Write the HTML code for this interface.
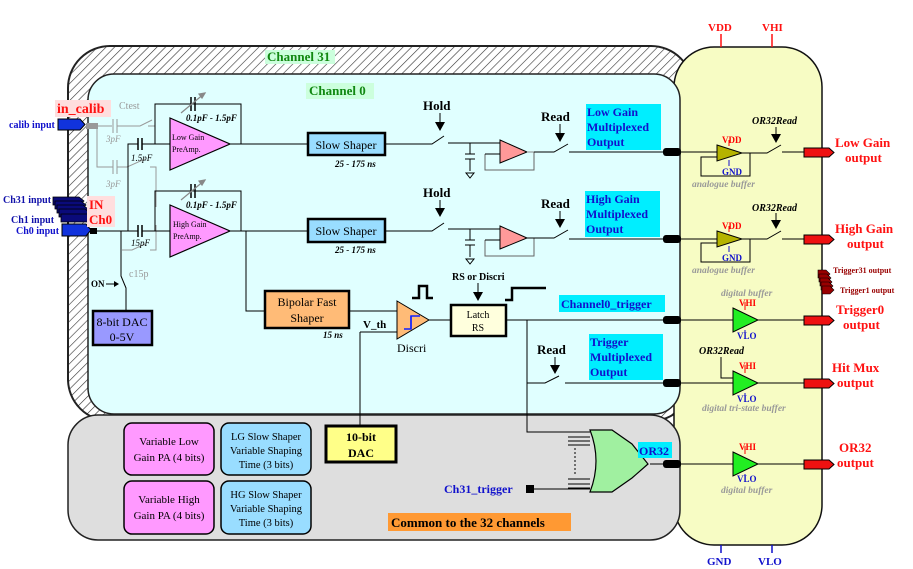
<!DOCTYPE html>
<html><head><meta charset="utf-8"><style>
html,body{margin:0;padding:0;background:#fff}
svg{display:block}
text{font-family:"Liberation Serif",serif}
.b{font-weight:bold}
</style></head><body>
<svg width="913" height="569" viewBox="0 0 913 569" xmlns="http://www.w3.org/2000/svg">
<defs>
<pattern id="h" width="6" height="6" patternUnits="userSpaceOnUse" patternTransform="rotate(45)">
<rect width="6" height="6" fill="#fff"/><line x1="0" y1="0" x2="0" y2="6" stroke="#333" stroke-width="1.2"/>
</pattern>
</defs>
<!-- Channel31 hatched -->
<rect x="68" y="46" width="625" height="375" rx="42" fill="url(#h)" stroke="#222" stroke-width="2"/>
<!-- yellow column -->
<rect x="674" y="47" width="148" height="498" rx="40" fill="#f7fcc4" stroke="#111" stroke-width="1.5"/>
<!-- channel 0 -->
<rect x="88" y="74" width="592" height="340" rx="26" fill="#e0ffff" stroke="#222" stroke-width="1.5"/>
<!-- gray common -->
<rect x="68" y="415" width="612" height="125" rx="30" fill="#dedede" stroke="#222" stroke-width="1.5"/>

<rect x="265" y="50" width="70" height="14" fill="#ccffdd"/>
<text x="267" y="61" font-size="13" class="b" fill="#118811">Channel 31</text>
<rect x="306" y="83" width="68" height="16" fill="#ccffdd"/>
<text x="309" y="95" font-size="13" class="b" fill="#118811">Channel 0</text>

<!-- left inputs -->
<rect x="55" y="100" width="56" height="17" fill="#ffdede"/>
<text x="57" y="113" font-size="14" class="b" fill="#ff1111">in_calib</text>
<text x="9" y="128" font-size="10" class="b" fill="#1111cc">calib input</text>
<path d="M58 119h22l5 5.5-5 5.5h-22z" fill="#1133dd" stroke="#000"/>
<rect x="86" y="123" width="12" height="6" fill="#999"/>
<g fill="#0a0a7a" stroke="#000" stroke-width="0.8">
<path d="M53 197h26l5 4-5 4h-26z"/><path d="M55 201h26l5 4-5 4h-26z"/><path d="M57 205h26l5 4-5 4h-26z"/><path d="M59 209h26l5 4-5 4h-26z"/><path d="M61 214h26l5 4-5 4h-26z"/>
</g>
<path d="M62 224h24l5 6-5 6h-24z" fill="#1133dd" stroke="#000"/>
<rect x="90" y="228" width="7" height="6" fill="#000"/>
<text x="3" y="203" font-size="10" class="b" fill="#1111aa">Ch31 input</text>
<text x="11" y="223" font-size="10" class="b" fill="#1111aa">Ch1 input</text>
<text x="16" y="234" font-size="10" class="b" fill="#1111cc">Ch0 input</text>
<rect x="87" y="196" width="28" height="31" fill="#ffdede"/>
<text x="89" y="209" font-size="13" class="b" fill="#ff1111">IN</text>
<text x="89" y="224" font-size="13" class="b" fill="#ff1111">Ch0</text>

<!-- gray calib circuitry -->
<g stroke="#999" fill="none" stroke-width="1">
<path d="M98 126h14M117 126h5M122 126h18l12-6M143 126v0M148 126h7"/>
<path d="M113 119v14M117 119v14"/>
<path d="M97 126v10M97 136v0"/>
<path d="M97 127v40h16M117 167h10l18-8M150 167h6v40"/>
<path d="M113 160v14M117 160v14"/>
<path d="M122 250h10l13-6M150 250h6v-25"/>
</g>
<text x="119" y="109" font-size="10" fill="#999">Ctest</text>
<text x="106" y="142" font-size="9" font-style="italic" fill="#999">3pF</text>
<text x="106" y="187" font-size="9" font-style="italic" fill="#999">3pF</text>
<text x="129" y="277" font-size="10" fill="#999">c15p</text>

<!-- main wiring -->
<g stroke="#000" fill="none" stroke-width="1">
<path d="M97 231h41M142 231h28"/>
<path d="M128 231v-87h10M142 144h28"/>
<path d="M155 144v-40h86v40M230 144h77"/>
<path d="M155 231v-40h86v40M230 231h77"/>
<path d="M121 231v45l5 12v22"/>
<path d="M246 231v80h19"/>
<path d="M385 144h47l12-8M448 143h52M470 143v5"/>
<path d="M385 231h47l12-8M448 229h52M470 229v5"/>
<path d="M349 311h48M360 332h37M360 332v93"/>
<path d="M429 320h21M506 320h157"/>
<path d="M527 320v112h63M527 383h18l14-7M565 383h98"/>
<path d="M534 489h56M650 464h13"/>
</g>
<g stroke="#000" stroke-width="1.5">
<path d="M138 138v12M142 138v12M138 225v12M142 225v12"/>
<path d="M191 97v14M195 97v14M191 184v14M195 184v14"/>
</g>
<g stroke="#888" stroke-width="1.2" fill="#888">
<path d="M181 113l24-20"/><path d="M205 93l-6 1 3 4z"/>
<path d="M181 200l24-20"/><path d="M205 180l-6 1 3 4z"/>
</g>
<text x="186" y="121" font-size="9" font-style="italic" class="b">0.1pF - 1.5pF</text>
<text x="186" y="208" font-size="9" font-style="italic" class="b">0.1pF - 1.5pF</text>
<text x="131" y="161" font-size="9" font-style="italic">1.5pF</text>
<text x="131" y="246" font-size="9" font-style="italic">15pF</text>
<text x="91" y="287" font-size="9" class="b">ON</text>
<path d="M106 284h12" stroke="#000"/><path d="M119 284l-5-3v6z"/>
<!-- preamps -->
<path d="M170 118L230 144L170 170z" fill="#ff99ff" stroke="#000" stroke-width="1.2"/>
<path d="M170 205L230 231L170 257z" fill="#ff99ff" stroke="#000" stroke-width="1.2"/>
<text x="172" y="140" font-size="8">Low Gain</text><text x="172" y="152" font-size="8">PreAmp.</text>
<text x="173" y="227" font-size="8">High Gain</text><text x="173" y="239" font-size="8">PreAmp.</text>
<!-- 8bit DAC -->
<rect x="93" y="311" width="59" height="34" fill="#9999ff" stroke="#000" stroke-width="2.5"/>
<text x="122" y="326" font-size="12" text-anchor="middle">8-bit DAC</text>
<text x="122" y="341" font-size="12" text-anchor="middle">0-5V</text>
<!-- slow shapers -->
<rect x="308" y="133" width="77" height="22" fill="#99ddff" stroke="#000" stroke-width="2.5"/>
<text x="346" y="149" font-size="12" text-anchor="middle">Slow Shaper</text>
<text x="335" y="167" font-size="9" font-style="italic" class="b">25 - 175 ns</text>
<rect x="308" y="219" width="77" height="23" fill="#99ddff" stroke="#000" stroke-width="2.5"/>
<text x="346" y="235" font-size="12" text-anchor="middle">Slow Shaper</text>
<text x="335" y="253" font-size="9" font-style="italic" class="b">25 - 175 ns</text>

<!-- hold/track stages -->
<g>
<text x="423" y="110" font-size="13" class="b">Hold</text>
<path d="M440 113v10" stroke="#000"/><path d="M435 122h10l-5 9z"/>
<path d="M465 154h10M465 159h10M470 159v12M470 148v6" stroke="#000"/><path d="M466 173h8l-4 5z" fill="none" stroke="#000"/>
<path d="M500 140L527 152L500 163z" fill="#ff9999" stroke="#000"/>
<path d="M527 152h27M485 170h-0" stroke="#888"/>
<path d="M485 154v16h49v-18" stroke="#666" fill="none"/>
<path d="M485 154h15" stroke="#000"/>
<path d="M534 152h20l14-8M569 152h94" stroke="#000" fill="none"/>
<text x="541" y="121" font-size="13" class="b">Read</text>
<path d="M560 124v10" stroke="#000"/><path d="M555 133h10l-5 9z"/>
</g>
<g>
<text x="423" y="197" font-size="13" class="b">Hold</text>
<path d="M440 200v9" stroke="#000"/><path d="M435 208h10l-5 9z"/>
<path d="M465 240h10M465 245h10M470 245v12M470 234v6" stroke="#000"/><path d="M466 259h8l-4 5z" fill="none" stroke="#000"/>
<path d="M500 226L527 238L500 249z" fill="#ff9999" stroke="#000"/>
<path d="M485 240v16h49v-18" stroke="#666" fill="none"/>
<path d="M485 240h15" stroke="#000"/>
<path d="M527 238h27l14-8M569 239h94" stroke="#000" fill="none"/>
<text x="541" y="208" font-size="13" class="b">Read</text>
<path d="M560 211v9" stroke="#000"/><path d="M555 219h10l-5 9z"/>
</g>
<rect x="586" y="104" width="75" height="46" fill="#00eeff"/>
<text x="587" y="116" font-size="12" class="b" fill="#1111cc">Low Gain</text>
<text x="587" y="131" font-size="12" class="b" fill="#1111cc">Multiplexed</text>
<text x="587" y="146" font-size="12" class="b" fill="#1111cc">Output</text>
<rect x="585" y="191" width="75" height="46" fill="#00eeff"/>
<text x="586" y="203" font-size="12" class="b" fill="#1111cc">High Gain</text>
<text x="586" y="218" font-size="12" class="b" fill="#1111cc">Multiplexed</text>
<text x="586" y="233" font-size="12" class="b" fill="#1111cc">Output</text>

<!-- trigger path -->
<rect x="265" y="291" width="84" height="37" fill="#ffbb77" stroke="#000" stroke-width="2.5"/>
<text x="307" y="306" font-size="12" text-anchor="middle">Bipolar Fast</text>
<text x="307" y="322" font-size="12" text-anchor="middle">Shaper</text>
<text x="323" y="338" font-size="9" font-style="italic" class="b">15 ns</text>
<text x="363" y="328" font-size="11" class="b">V_th</text>
<path d="M397 301L429 320L397 339z" fill="#ffbb77" stroke="#000"/>
<path d="M404 329h7v-13h9" stroke="#1122ff" stroke-width="1.5" fill="none"/><path d="M411 316v13" stroke="#1122ff" stroke-width="1.5"/>
<text x="397" y="352" font-size="12">Discri</text>
<path d="M412 298h7v-12h8v12h6" stroke="#000" stroke-width="2.5" fill="none"/>
<rect x="451" y="305" width="55" height="31" fill="#ffffdd" stroke="#000" stroke-width="2.5"/>
<text x="478" y="318" font-size="10" text-anchor="middle">Latch</text>
<text x="478" y="331" font-size="10" text-anchor="middle">RS</text>
<text x="452" y="280" font-size="10" class="b">RS or Discri</text>
<path d="M478 283v10" stroke="#000"/><path d="M473 292h10l-5 9z"/>
<path d="M505 300h7v-12h34" stroke="#000" stroke-width="2.5" fill="none"/>
<rect x="559" y="295" width="106" height="17" fill="#00eeff"/>
<text x="561" y="308" font-size="12" class="b" fill="#1111cc">Channel0_trigger</text>
<text x="537" y="354" font-size="13" class="b">Read</text>
<path d="M555 357v9" stroke="#000"/><path d="M550 365h10l-5 9z"/>
<rect x="589" y="334" width="74" height="46" fill="#00eeff"/>
<text x="590" y="346" font-size="12" class="b" fill="#1111cc">Trigger</text>
<text x="590" y="361" font-size="12" class="b" fill="#1111cc">Multiplexed</text>
<text x="590" y="376" font-size="12" class="b" fill="#1111cc">Output</text>

<!-- bottom boxes -->
<rect x="124" y="423" width="90" height="52" rx="8" fill="#ff99ff" stroke="#000" stroke-width="1.5"/>
<text x="169" y="445" font-size="11" text-anchor="middle">Variable Low</text>
<text x="169" y="461" font-size="11" text-anchor="middle">Gain PA (4 bits)</text>
<rect x="124" y="481" width="90" height="53" rx="8" fill="#ff99ff" stroke="#000" stroke-width="1.5"/>
<text x="169" y="503" font-size="11" text-anchor="middle">Variable High</text>
<text x="169" y="519" font-size="11" text-anchor="middle">Gain PA (4 bits)</text>
<rect x="221" y="423" width="90" height="52" rx="8" fill="#99ddff" stroke="#000" stroke-width="1.5"/>
<text x="266" y="440" font-size="10.5" text-anchor="middle">LG Slow Shaper</text>
<text x="266" y="454" font-size="10.5" text-anchor="middle">Variable Shaping</text>
<text x="266" y="468" font-size="10.5" text-anchor="middle">Time (3 bits)</text>
<rect x="221" y="481" width="90" height="53" rx="8" fill="#99ddff" stroke="#000" stroke-width="1.5"/>
<text x="266" y="498" font-size="10.5" text-anchor="middle">HG Slow Shaper</text>
<text x="266" y="512" font-size="10.5" text-anchor="middle">Variable Shaping</text>
<text x="266" y="526" font-size="10.5" text-anchor="middle">Time (3 bits)</text>
<rect x="326" y="426" width="70" height="36" fill="#ffff88" stroke="#000" stroke-width="3"/>
<text x="361" y="441" font-size="12" class="b" text-anchor="middle">10-bit</text>
<text x="361" y="457" font-size="12" class="b" text-anchor="middle">DAC</text>
<rect x="388" y="513" width="183" height="18" fill="#ff9933"/>
<text x="391" y="527" font-size="13" class="b">Common to the 32 channels</text>
<text x="444" y="493" font-size="12" class="b" fill="#1111cc">Ch31_trigger</text>
<rect x="526" y="485" width="8" height="8" fill="#000"/>
<!-- OR gate -->
<g stroke="#000" fill="none"><path d="M568 437h22M568 441h22M568 445h22M568 479h22M568 484h22M568 488h22"/><path d="M575 448v28" stroke-dasharray="2 2"/></g>
<path d="M590 430h22l20 14l16 20l-16 14l-20 14h-22q12-31 0-62z" fill="#a0f0a0" stroke="#000" stroke-width="1.2"/>
<rect x="638" y="442" width="34" height="16" fill="#00eeff"/>
<text x="639" y="455" font-size="12" class="b" fill="#1111cc">OR32</text>

<!-- connectors on boundary -->
<g fill="#000"><rect x="663" y="148" width="18" height="8" rx="3"/><rect x="663" y="235" width="18" height="8" rx="3"/><rect x="663" y="316" width="18" height="8" rx="3"/><rect x="663" y="379" width="18" height="8" rx="3"/><rect x="663" y="460" width="18" height="8" rx="3"/></g>

<!-- right buffers -->
<g stroke="#000" fill="none">
<path d="M681 152h36M742 153h25l14-8M782 152h22"/>
<path d="M717 157h-16v19h49v-23"/>
<path d="M681 239h36M742 239h25l14-8M782 239h22"/>
<path d="M717 243h-16v19h49v-23"/>
<path d="M681 320h52M758 320h46M681 383h52M758 383h46M721 357v21h12M681 464h52M758 464h46"/>
</g>
<g stroke="#ff0000"><path d="M729 140v6M729 226v6M745 302v8M745 365v8M745 446v8"/></g>
<g stroke="#1111cc"><path d="M729 160v6M729 246v6M745 330v6M745 393v6M745 474v6"/></g>
<path d="M717 145L742 153L717 161z" fill="#b5b300" stroke="#000"/>
<path d="M717 231L742 239L717 247z" fill="#b5b300" stroke="#000"/>
<path d="M733 308L758 320L733 332z" fill="#22ee22" stroke="#000"/>
<path d="M733 371L758 383L733 395z" fill="#22ee22" stroke="#000"/>
<path d="M733 452L758 464L733 476z" fill="#22ee22" stroke="#000"/>
<g font-size="9" class="b" font-weight="bold">
<text x="722" y="143" fill="#ff0000">VDD</text><text x="722" y="175" fill="#1111cc">GND</text>
<text x="722" y="229" fill="#ff0000">VDD</text><text x="722" y="261" fill="#1111cc">GND</text>
<text x="739" y="306" fill="#ff0000">VHI</text><text x="737" y="339" fill="#1111cc">VLO</text>
<text x="739" y="369" fill="#ff0000">VHI</text><text x="737" y="402" fill="#1111cc">VLO</text>
<text x="739" y="450" fill="#ff0000">VHI</text><text x="737" y="482" fill="#1111cc">VLO</text>
</g>
<g font-size="10" font-style="italic" class="b">
<text x="752" y="124">OR32Read</text><text x="752" y="211">OR32Read</text><text x="699" y="354">OR32Read</text>
</g>
<path d="M776 127v8M776 213v8" stroke="#000"/><path d="M771 134h10l-5 9zM771 220h10l-5 9z"/>
<g font-size="9.5" font-style="italic" fill="#999" class="b">
<text x="692" y="187">analogue buffer</text><text x="692" y="273">analogue buffer</text>
<text x="721" y="296">digital buffer</text><text x="702" y="411">digital tri-state buffer</text>
<text x="721" y="493">digital buffer</text>
</g>
<g fill="#ee1111" stroke="#000"><path d="M804 148h25l5 4.5-5 4.5h-25z"/><path d="M804 235h25l5 4.5-5 4.5h-25z"/><path d="M804 316h25l5 4.5-5 4.5h-25z"/><path d="M804 379h25l5 4.5-5 4.5h-25z"/><path d="M804 460h25l5 4.5-5 4.5h-25z"/></g>
<g fill="#990000" stroke="#000" stroke-width="0.6"><path d="M818 270h8l4 4-4 4h-8z"/><path d="M819 274h8l4 4-4 4h-8z"/><path d="M820 278h8l4 4-4 4h-8z"/><path d="M821 282h8l4 4-4 4h-8z"/><path d="M822 286h8l4 4-4 4h-8z"/></g>
<g font-size="13" class="b" fill="#ff1111">
<text x="835" y="147">Low Gain</text><text x="845" y="162">output</text>
<text x="835" y="233">High Gain</text><text x="847" y="248">output</text>
<text x="836" y="314">Trigger0</text><text x="843" y="329">output</text>
<text x="832" y="372">Hit Mux</text><text x="837" y="387">output</text>
<text x="839" y="452">OR32</text><text x="837" y="467">output</text>
</g>
<text x="833" y="273" font-size="8" class="b" fill="#990000">Trigger31 output</text>
<text x="840" y="293" font-size="8" class="b" fill="#990000">Trigger1 output</text>
<g font-size="11" class="b"><text x="708" y="31" fill="#ff1111">VDD</text><text x="762" y="31" fill="#ff1111">VHI</text>
<text x="707" y="565" fill="#1111cc">GND</text><text x="758" y="565" fill="#1111cc">VLO</text></g>
<path d="M721 34v13M772 34v13" stroke="#ff1111" stroke-width="1.5"/>
<path d="M721 545v8M772 545v8" stroke="#1111cc" stroke-width="1.5"/>
</svg>
</body></html>
